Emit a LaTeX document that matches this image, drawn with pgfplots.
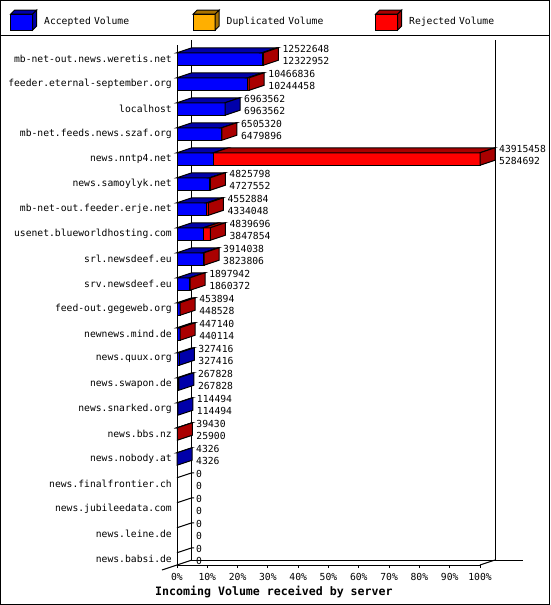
\documentclass[border=0pt]{standalone}
\usepackage{fontspec}
\setmonofont{DejaVu Sans Mono}
\usepackage{pgfplots}
\usepackage{pgfplotstable}
\pgfplotsset{compat=1.18}

\definecolor{acc}{RGB}{0,0,255}
\definecolor{accdark}{RGB}{0,0,170}
\definecolor{dup}{RGB}{255,175,0}
\definecolor{dupdark}{RGB}{170,115,0}
\definecolor{rej}{RGB}{255,0,0}
\definecolor{rejdark}{RGB}{170,0,0}

\newcommand\smallfont{\ttfamily\fontsize{9.7}{10}\selectfont}
\newcommand\titlefont{\ttfamily\bfseries\fontsize{11.6}{12}\selectfont}

% incoming volume per server: total and accepted part (rejected = total - accepted)
\pgfplotstableread[col sep=comma]{
name,total,accepted
mb-net-out.news.weretis.net,12522648,12322952
feeder.eternal-september.org,10466836,10244458
localhost,6963562,6963562
mb-net.feeds.news.szaf.org,6505320,6479896
news.nntp4.net,43915458,5284692
news.samoylyk.net,4825798,4727552
mb-net-out.feeder.erje.net,4552884,4334048
usenet.blueworldhosting.com,4839696,3847854
srl.newsdeef.eu,3914038,3823806
srv.newsdeef.eu,1897942,1860372
feed-out.gegeweb.org,453894,448528
newnews.mind.de,447140,440114
news.quux.org,327416,327416
news.swapon.de,267828,267828
news.snarked.org,114494,114494
news.bbs.nz,39430,25900
news.nobody.at,4326,4326
news.finalfrontier.ch,0,0
news.jubileedata.com,0,0
news.leine.de,0,0
news.babsi.de,0,0
}\servers

\def\vmax{43915458} % largest total = 100%
\def\dx{4.95}       % box depth in x units (15px)
\def\dy{0.2}        % box depth in rows (5px)
\def\hh{0.25}       % half height of a box in rows

\pgfplotsset{
  face/.style={draw=black, line width=1pt, mark=none, forget plot},
  cube legend/.style 2 args={legend image code/.code={
    \draw[line width=1pt, fill=#1] (0pt,-8pt) rectangle (22pt,8pt);
    \draw[line width=1pt, fill=#2] (0pt,8pt) -- (4pt,12pt) -- (26pt,12pt) -- (22pt,8pt) -- cycle;
    \draw[line width=1pt, fill=#2] (22pt,-8pt) -- (22pt,8pt) -- (26pt,12pt) -- (26pt,-4pt) -- cycle;}},
  numbers/.style={only marks, mark=*, mark size=0pt, forget plot,
    scatter/use mapped color={draw=none, fill=none},
    point meta=explicit symbolic, nodes near coords,
    nodes near coords style={anchor=west, font=\smallfont, inner sep=0pt, xshift=19pt, yshift=#1}},
}

% one 3d box for table row #1; an empty feed keeps only its upper edge
\newcommand\drawbox[1]{%
  \pgfplotstablegetelem{#1}{total}\of\servers\let\T\pgfplotsretval
  \pgfplotstablegetelem{#1}{accepted}\of\servers\let\A\pgfplotsretval
  \begingroup
  \pgfkeys{/pgf/fpu=true,/pgf/fpu/output format=fixed}%
  \pgfmathparse{100*\T/\vmax}\xdef\vt{\pgfmathresult}%
  \pgfmathparse{100*\A/\vmax}\xdef\va{\pgfmathresult}%
  \pgfmathparse{\vt+\dx}\xdef\vtd{\pgfmathresult}%
  \pgfmathparse{\va+\dx}\xdef\vad{\pgfmathresult}%
  \pgfmathparse{#1-\hh}\xdef\yt{\pgfmathresult}%
  \pgfmathparse{#1+\hh}\xdef\yb{\pgfmathresult}%
  \pgfmathparse{#1-\hh-\dy}\xdef\ytb{\pgfmathresult}%
  \pgfmathparse{#1+\hh-\dy}\xdef\ybb{\pgfmathresult}%
  \endgroup
  \ifnum\T>0\relax
    \edef\tmp{\noexpand\addplot[face,fill=acc] coordinates {(0,\yb) (0,\yt) (\va,\yt) (\va,\yb)} -- cycle;}\tmp
    \edef\tmp{\noexpand\addplot[face,fill=accdark] coordinates {(0,\yt) (\va,\yt) (\vad,\ytb) (\dx,\ytb)} -- cycle;}\tmp
    \ifnum\T>\A\relax
      \edef\tmp{\noexpand\addplot[face,fill=rej] coordinates {(\va,\yb) (\va,\yt) (\vt,\yt) (\vt,\yb)} -- cycle;}\tmp
      \edef\tmp{\noexpand\addplot[face,fill=rejdark] coordinates {(\va,\yt) (\vt,\yt) (\vtd,\ytb) (\vad,\ytb)} -- cycle;}\tmp
      \def\side{rejdark}%
    \else
      \def\side{accdark}%
    \fi
    \edef\tmp{\noexpand\addplot[face,fill=\side] coordinates {(\vt,\yb) (\vt,\yt) (\vtd,\ytb) (\vtd,\ybb)} -- cycle;}\tmp
  \else
    \edef\tmp{\noexpand\draw[line width=1pt] (axis cs:0,\yt) -- (axis cs:\dx,\ytb) -- (axis cs:\vtd+0.7,\ytb);}\tmp
  \fi
}

\begin{document}
\begin{tikzpicture}
\useasboundingbox (0,0) rectangle (550pt,605pt);
\begin{axis}[
  at={(177pt,40pt)}, anchor=south west,
  scale only axis, width=303pt, height=520pt,
  xmin=0, xmax=100, ymin=-0.56, ymax=20.24,
  y dir=reverse, clip=false,
  axis x line*=bottom, axis y line*=left,
  axis line style={line width=1pt, -},
  xtick={0,10,...,100},
  xticklabels={0\%,10\%,20\%,30\%,40\%,50\%,60\%,70\%,80\%,90\%,100\%},
  ytick={0,...,20},
  yticklabels from table={\servers}{name},
  tick align=outside, major tick length=3pt,
  xtick style={line width=1pt, black},
  ytick style={draw=none},
  ticklabel style={font=\smallfont, inner sep=0pt},
  yticklabel style={xshift=-2pt},
  xticklabel style={yshift=-5pt},
  xlabel={Incoming Volume received by server},
  xlabel style={at={(axis description cs:-0.0726,-0.0519)}, anchor=west, font=\titlefont, inner sep=0pt},
  legend columns=3,
  legend cell align=left,
  legend style={draw=none, fill=none, at={(axis description cs:-0.5512,1.048)}, anchor=west,
    inner sep=0pt, font=\smallfont,
    /tikz/every odd column/.append style={column sep=7pt},
    nodes={inner sep=0pt, text width=148.5pt, align=left}},
]
% back wall and floor
\draw[line width=1pt] (axis cs:\dx,-0.76) -- (axis cs:\dx,20.04) -- (axis cs:114.2,20.04);
\draw[line width=1pt] (axis cs:100+\dx,-0.76) -- (axis cs:100+\dx,20.04);
\draw[line width=1pt] (axis cs:-4.95,20.44) -- (axis cs:\dx,20.04);
\draw[line width=1pt] (axis cs:100,20.24) -- (axis cs:100+\dx,20.04);

\addlegendimage{cube legend={acc}{accdark}}
\addlegendentry{Accepted Volume}
\addlegendimage{cube legend={dup}{dupdark}}
\addlegendentry{Duplicated Volume}
\addlegendimage{cube legend={rej}{rejdark}}
\addlegendentry{Rejected Volume}

\pgfplotsinvokeforeach{0,...,20}{\drawbox{#1}}

% total and accepted volume written beside each box
\addplot[numbers=10pt] table[x expr=100*\thisrow{total}/\vmax, y expr=\coordindex, meta=total] {\servers};
\addplot[numbers=-2pt] table[x expr=100*\thisrow{total}/\vmax, y expr=\coordindex, meta=accepted] {\servers};
\end{axis}
\draw[line width=1pt] (0.5pt,0.5pt) rectangle (549.5pt,604.5pt);
\draw[line width=1pt] (0,569.5pt) -- (550pt,569.5pt);
\end{tikzpicture}
\end{document}
